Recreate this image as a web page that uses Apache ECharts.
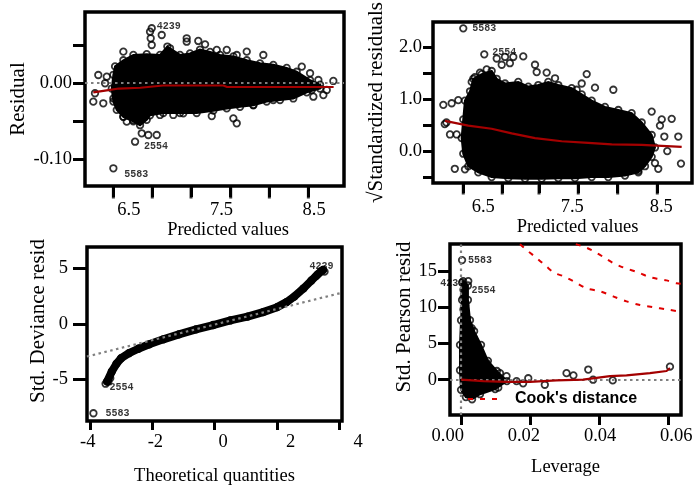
<!DOCTYPE html>
<html>
<head>
<meta charset="utf-8">
<script src="https://cdn.jsdelivr.net/npm/echarts@6/dist/echarts.min.js"></script>
<style>
html, body { margin: 0; padding: 0; background: #fff; }
#chart { width: 697px; height: 491px; }
</style>
</head>
<body>
<div id="chart"></div>
<script>
// ---- values ----
// panel 1: residuals vs predicted values
const residCore = [[6.346,-0.007],[6.363,0.011],[6.381,0.022],[6.469,0.030],[6.575,0.037],[6.717,0.038],[6.858,0.037],[6.936,0.048],[7.070,0.037],[7.176,0.039],[7.282,0.044],[7.389,0.041],[7.495,0.037],[7.636,0.035],[7.778,0.030],[7.919,0.026],[8.060,0.024],[8.202,0.020],[8.308,0.015],[8.450,0.004],[8.556,-0.002],[8.556,-0.007],[8.415,-0.012],[8.272,-0.020],[8.131,-0.022],[7.990,-0.024],[7.848,-0.029],[7.707,-0.031],[7.566,-0.033],[7.424,-0.036],[7.247,-0.039],[7.070,-0.039],[6.893,-0.039],[6.752,-0.042],[6.717,-0.048],[6.646,-0.055],[6.575,-0.050],[6.469,-0.044],[6.399,-0.035],[6.363,-0.024]];
const residPoints = [[6.759,0.0588],[6.876,0.0631],[6.770,0.0500],[6.752,0.0674],[7.141,0.0588],[7.141,0.0543],[7.264,0.0553],[7.336,0.0509],[6.964,0.0457],[6.469,0.0413],[7.460,0.0435],[7.566,0.0435],[7.672,0.0369],[7.778,0.0413],[7.954,0.0369],[8.362,0.0216],[8.450,0.0130],[8.538,0.0042],[8.697,0.0029],[8.468,-0.0089],[8.591,-0.0155],[8.485,-0.0177],[8.627,-0.0089],[6.203,0.0107],[6.293,0.0085],[6.275,-0.0001],[6.168,-0.0132],[6.150,-0.0242],[6.256,-0.0263],[6.363,-0.0198],[6.469,-0.0439],[6.575,-0.0482],[6.505,-0.0504],[6.664,-0.0656],[6.823,-0.0678],[6.734,-0.0678],[7.407,-0.0430],[7.636,-0.0460],[7.672,-0.0525],[6.858,-0.0416],[6.999,-0.0416],[7.105,-0.0394],[7.848,-0.0285],[8.060,-0.0220]];
const residNamed = [[6.770,0.0719,'4239'],[6.593,-0.0766,'2554'],[6.363,-0.1114,'5583']];
const residSmooth = [[6.15,-0.012],[6.31,-0.009],[6.42,-0.007],[6.65,-0.006],[6.89,-0.003],[7.53,-0.003],[7.57,-0.005],[8.70,-0.005]];

// panel 2: sqrt standardized residuals vs predicted values
const scaleCore = [[6.275,0.62],[6.294,0.98],[6.351,1.16],[6.388,1.40],[6.482,1.49],[6.594,1.55],[6.651,1.40],[6.744,1.31],[6.893,1.34],[7.006,1.25],[7.118,1.28],[7.230,1.34],[7.343,1.28],[7.493,1.22],[7.606,1.10],[7.718,0.98],[7.867,0.86],[8.017,0.80],[8.167,0.74],[8.280,0.56],[8.392,0.32],[8.429,0.08],[8.392,-0.10],[8.317,-0.28],[8.242,-0.40],[8.092,-0.46],[7.904,-0.49],[7.718,-0.49],[7.530,-0.51],[7.343,-0.51],[7.156,-0.52],[6.969,-0.52],[6.781,-0.51],[6.594,-0.49],[6.444,-0.40],[6.331,-0.28],[6.275,-0.04],[6.257,0.26]];
const scalePoints = [[6.651,1.79],[6.744,1.82],[6.837,1.82],[6.707,1.67],[6.799,1.70],[6.949,1.83],[7.081,1.67],[7.100,1.53],[7.212,1.52],[7.306,1.41],[7.662,1.49],[7.961,1.19],[7.755,1.23],[7.606,1.31],[7.549,1.19],[8.392,0.77],[8.505,0.62],[8.617,0.63],[8.485,0.50],[8.534,0.29],[8.691,0.29],[8.567,0.01],[8.721,-0.23],[8.466,-0.33],[8.429,-0.22],[6.051,0.90],[6.145,0.93],[6.219,0.99],[6.067,0.53],[6.086,0.56],[6.126,0.33],[6.201,0.33],[6.180,-0.33],[6.294,-0.34],[6.331,0.83],[6.331,0.68],[6.370,1.34],[6.405,1.43],[6.463,1.52],[6.538,1.58],[8.092,-0.34],[8.242,-0.37]];
const scaleNamed = [[6.275,2.37,'5583'],[6.511,1.87,'2554']];
const scaleSmooth = [[6.070,0.59],[6.331,0.50],[6.594,0.44],[6.819,0.35],[7.081,0.26],[7.381,0.20],[7.680,0.17],[7.943,0.14],[8.280,0.13],[8.729,0.09]];

// panel 3: normal Q-Q
const qqBand = [[-3.45,-5.2],[-3.3,-4.3],[-3.15,-3.6],[-3.0,-3.1],[-2.75,-2.65],[-2.45,-2.25],[-2.1,-1.85],[-1.65,-1.4],[-1.15,-0.95],[-0.6,-0.5],[-0.05,-0.11],[0.5,0.3],[1.05,0.64],[1.55,1.05],[2.0,1.5],[2.3,1.95],[2.55,2.45],[2.85,3.2],[3.1,3.9],[3.3,4.45],[3.47,4.85]];
const qqPoints = [[-3.5,-5.4],[-3.35,-4.9],[3.4,4.75],[3.25,4.3]];
const qqNamed = [[3.52,4.7,'4239'],[-3.41,-5.2,'2554'],[-3.89,-8.06,'5583']];
const qqLine = [[-4.1,-2.95],[4.08,2.8]];

// panel 4: residuals vs leverage
const levCore = [[0.0006,13.6],[0.0020,13.0],[0.0020,11.0],[0.0026,8.2],[0.0038,6.7],[0.0058,4.8],[0.0078,2.6],[0.0104,1.2],[0.0133,-0.2],[0.0099,-1.3],[0.0055,-2.0],[0.0032,-2.7],[0.0014,-2.4],[0.0000,-1.4],[-0.0003,1.3],[-0.0003,4.8],[0.0000,8.2],[0.0003,11.0],[0.0003,13.4]];
const levPoints = [[0.0007,11.3],[0.0012,10.3],[0.0007,9.7],[0.0017,8.5],[0.0021,7.4],[0.0031,7.1],[0.0036,5.8],[0.0046,4.6],[0.0074,2.3],[0.0079,1.8],[0.0113,0.9],[0.0132,0.5],[0.0108,-1.1],[0.0195,0.2],[0.0243,-0.7],[0.0306,0.9],[0.0326,0.6],[0.0369,1.4],[0.0383,0.0],[0.0440,-0.1],[0.0606,1.8],[0.0161,-0.2],[0.0180,-0.5]];
const levNamed = [[0.0003,16.5,'5583'],[0.0021,13.6,'4239'],[0.0007,12.4,'2554']];
const levSmooth = [[0,0],[0.0065,-0.2],[0.0132,-0.3],[0.0200,-0.3],[0.0277,-0.1],[0.0354,0.0],[0.0432,0.5],[0.0480,0.6],[0.0548,0.9],[0.0596,1.2],[0.0606,1.6]];
const cookHalf = [[0.0171,18.7],[0.0195,17.7],[0.0219,16.8],[0.0248,15.6],[0.0272,14.7],[0.0296,14.3],[0.0325,13.6],[0.0364,12.6],[0.0403,12.2],[0.0441,11.5],[0.0480,10.8],[0.0519,10.3],[0.0557,10.0],[0.0596,9.7],[0.0635,9.4],[0.0683,9.2]];
const cookOne = [[0.0333,18.7],[0.0364,18.2],[0.0393,17.5],[0.0417,16.8],[0.0441,16.1],[0.0470,15.5],[0.0519,14.7],[0.0543,14.2],[0.0572,13.9],[0.0596,13.7],[0.0625,13.3],[0.0664,13.2]];

// ticks and tick labels
const p1XTicks = [6.363, 6.776, 7.187, 7.608, 8.018, 8.432];
const p1XLabels = [6.5, 7.5, 8.5];
const p1YTicks = [-0.10, -0.05, 0, 0.05];
const p1YLabels = [-0.10, 0];
const p2XTicks = [6.275, 6.713, 7.126, 7.567, 8.010, 8.455];
const p2XLabels = [6.5, 7.5, 8.5];
const p2YTicks = [-0.5, 0, 0.5, 1, 1.5, 2];
const p2YLabels = [0, 1, 2];
const p3XTicks = [-4, -2, 0, 2, 4];
const p3XLabels = [-4, -2, 0, 2, 4];
const p3YTicks = [-5, 0, 5];
const p3YLabels = [-5, 0, 5];
const p4XTicks = [0, 0.02, 0.04, 0.06];
const p4XLabels = [0, 0.02, 0.04, 0.06];
const p4YTicks = [0, 5, 10, 15];
const p4YLabels = [0, 5, 10, 15];

// ---- styles ----
const serif = 'Liberation Serif';
const ring = { color: 'rgba(0,0,0,0)', borderColor: '#000', borderWidth: 1.8 };
const labelOffsets = {
  p1: { '4239': [17, -2], '2554': [21, 5], '5583': [23, 6] },
  p2: { '5583': [21, 0], '2554': [20, -2] },
  p3: { '4239': [-3, -5], '2554': [13, 6], '5583': [24, 0] },
  p4: { '5583': [18, 0], '4239': [-16, 2], '2554': [20, 1] }
};

// axis ranges of the four panels
const p1X = [6.062, 8.810], p1Y = [-0.1346, 0.0932];
const p2X = [5.935, 8.845], p2Y = [-0.603, 2.491];

const chart = echarts.init(document.getElementById('chart'));

const box = { show: true, borderColor: '#000', borderWidth: 3.5, backgroundColor: 'rgba(0,0,0,0)' };
const grid = [
  Object.assign({ left: 85, top: 12, width: 259, height: 174 }, box),
  Object.assign({ left: 433, top: 11, width: 259, height: 172 }, box),
  Object.assign({ left: 87, top: 247, width: 255, height: 174 }, box),
  Object.assign({ left: 450, top: 244, width: 231, height: 171 }, box),
  // helper grids carrying the x tick labels
  { left: 85, top: 12, width: 259, height: 174, show: false },
  { left: 433, top: 11, width: 259, height: 172, show: false },
  { left: 80, top: 247, width: 285, height: 174, show: false },
  { left: 440, top: 244, width: 250, height: 171, show: false }
];

function nameStyle(size, pad) {
  return { fontFamily: serif, fontSize: size, color: '#000', padding: pad || 0 };
}

function dataX(gi, min, max, ticks, tickLen, name, gap) {
  const ax = {
    gridIndex: gi, type: 'value', min: min, max: max, position: 'bottom',
    axisLine: { show: false, onZero: false },
    axisTick: { show: true, length: tickLen, lineStyle: { color: '#000', width: 3 }, customValues: ticks },
    axisLabel: { show: false },
    splitLine: { show: false }
  };
  if (name) {
    Object.assign(ax, { name: name, nameLocation: 'middle', nameGap: gap, nameTextStyle: nameStyle(18.5) });
  }
  return ax;
}

function labelX(gi, min, max, labels, margin, fmt, name, gap, pad) {
  const ax = {
    gridIndex: gi, type: 'value', min: min, max: max, position: 'bottom',
    axisLine: { show: false, onZero: false }, axisTick: { show: false }, splitLine: { show: false },
    axisLabel: {
      customValues: labels, margin: margin, formatter: fmt, hideOverlap: false,
      fontFamily: serif, fontSize: 18.5, color: '#000'
    }
  };
  if (name) {
    Object.assign(ax, { name: name, nameLocation: 'middle', nameGap: gap, nameTextStyle: nameStyle(18.5, pad) });
  }
  return ax;
}

function dataY(gi, min, max, ticks, labels, tickLen, margin, fmt, name, gap, pad) {
  return {
    gridIndex: gi, type: 'value', min: min, max: max, position: 'left',
    axisLine: { show: false, onZero: false },
    axisTick: { show: true, length: tickLen, lineStyle: { color: '#000', width: 3 }, customValues: ticks },
    axisLabel: {
      customValues: labels, margin: margin, formatter: fmt, hideOverlap: false,
      fontFamily: serif, fontSize: 18.5, color: '#000'
    },
    splitLine: { show: false },
    name: name, nameLocation: 'middle', nameGap: gap, nameTextStyle: nameStyle(21, pad)
  };
}

function hiddenY(gi) {
  return { gridIndex: gi, type: 'value', min: 0, max: 1, show: false, axisLine: { onZero: false } };
}

// the dense core of each cloud, filled as one polygon through its outline
function blob(points, ai) {
  return {
    type: 'custom', xAxisIndex: ai, yAxisIndex: ai, z: 2, silent: true,
    data: [points[0]],
    renderItem: function (params, api) {
      return {
        type: 'polygon',
        shape: { points: points.map(function (p) { return api.coord(p); }) },
        style: { fill: '#000', stroke: '#000', lineWidth: 2 }
      };
    }
  };
}

function dots(data, ai) {
  return {
    type: 'scatter', xAxisIndex: ai, yAxisIndex: ai, data: data, silent: true,
    symbol: 'circle', symbolSize: 6.5, itemStyle: ring, z: 3
  };
}

function named(data, ai, key) {
  return {
    type: 'scatter', xAxisIndex: ai, yAxisIndex: ai, silent: true,
    symbol: 'circle', symbolSize: 6.5, itemStyle: ring, z: 4,
    data: data.map(function (d) {
      return { value: d, label: { offset: labelOffsets[key][d[2]] } };
    }),
    label: {
      show: true, position: 'inside', formatter: function (p) { return p.value[2]; },
      fontFamily: 'Liberation Mono', fontWeight: 'bold', fontSize: 10, color: '#000'
    }
  };
}

// outward tick marks hung under the bottom edge of the top panels
function bottomTicks(ticks, yMin, ai, len) {
  return {
    type: 'scatter', xAxisIndex: ai, yAxisIndex: ai, silent: true, clip: false, z: 7,
    data: ticks.map(function (t) { return [t, yMin]; }),
    symbol: 'rect', symbolSize: [3, len], symbolOffset: [0, len / 2 + 1.5],
    itemStyle: { color: '#000' }
  };
}

function smooth(data, ai) {
  return {
    type: 'line', xAxisIndex: ai, yAxisIndex: ai, data: data, silent: true,
    showSymbol: false, symbol: 'none', z: 6,
    lineStyle: { color: '#a30000', width: 2.2 }
  };
}

const dotted = { color: '#808080', width: 2.2, type: [2.5, 3.5] };

const fmt2 = function (v) { return v.toFixed(2); };
const fmt1 = function (v) { return v.toFixed(1); };
const fmt0 = function (v) { return String(Math.round(v)); };

chart.setOption({
  animation: false,
  textStyle: { fontFamily: serif },
  grid: grid,
  legend: {
    data: ["Cook's distance"], selectedMode: false,
    left: 462, top: 386, itemWidth: 30, itemHeight: 12,
    itemStyle: { opacity: 0 },
    textStyle: { fontFamily: 'Liberation Sans', fontSize: 16, fontWeight: 'bold', color: '#000', padding: [0, 0, 0, 12] }
  },
  xAxis: [
    dataX(0, p1X[0], p1X[1], p1XTicks, 11),
    dataX(1, p2X[0], p2X[1], p2XTicks, 10),
    dataX(2, -4.096, 4.08, p3XTicks, 9, 'Theoretical quantities', 46),
    dataX(3, -0.0032, 0.0638, p4XTicks, 10, 'Leverage', 43),
    labelX(4, 6.027, 8.822, p1XLabels, 15, fmt1, 'Predicted values', 33, [0, 0, 0, 27]),
    labelX(5, 5.935, 8.845, p2XLabels, 15, fmt1, 'Predicted values', 32, [0, 0, 0, 30]),
    labelX(6, -4.231, 4.201, p3XLabels, 12, fmt0),
    labelX(7, -0.00202, 0.0636, p4XLabels, 12, fmt2)
  ],
  yAxis: [
    dataY(0, p1Y[0], p1Y[1], p1YTicks, p1YLabels, 12, 13, fmt2, 'Residual', 56),
    dataY(1, p2Y[0], p2Y[1], p2YTicks, p2YLabels, 10, 11, fmt1, '\u221AStandardized residuals', 46),
    dataY(2, -8.76, 6.92, p3YTicks, p3YLabels, 14, 19, fmt0, 'Std. Deviance resid', 37, [0, 0, 0, 26]),
    dataY(3, -4.87, 18.72, p4YTicks, p4YLabels, 12, 13, fmt0, 'Std. Pearson resid', 34, [0, 0, 0, 25]),
    hiddenY(4), hiddenY(5), hiddenY(6), hiddenY(7)
  ],
  series: [
    // panel 1
    blob(residCore, 0),
    dots(residCore, 0),
    dots(residPoints, 0),
    named(residNamed, 0, 'p1'),
    bottomTicks(p1XTicks, p1Y[0], 0, 11),
    Object.assign(smooth(residSmooth, 0), {
      markLine: { silent: true, symbol: 'none', label: { show: false }, lineStyle: dotted, data: [{ yAxis: 0 }], z: 5 }
    }),
    // panel 2
    blob(scaleCore, 1),
    dots(scaleCore, 1),
    dots(scalePoints, 1),
    named(scaleNamed, 1, 'p2'),
    bottomTicks(p2XTicks, p2Y[0], 1, 10),
    smooth(scaleSmooth, 1),
    // panel 3
    {
      type: 'line', xAxisIndex: 2, yAxisIndex: 2, data: qqBand, silent: true,
      symbol: 'circle', symbolSize: 6.5, showSymbol: true, itemStyle: ring, z: 3,
      lineStyle: { color: '#000', width: 8, cap: 'round', join: 'round' }
    },
    dots(qqPoints, 2),
    named(qqNamed, 2, 'p3'),
    {
      type: 'line', xAxisIndex: 2, yAxisIndex: 2, data: qqLine, silent: true,
      symbol: 'none', z: 5, lineStyle: dotted
    },
    // panel 4
    blob(levCore, 3),
    dots(levCore, 3),
    dots(levPoints, 3),
    named(levNamed, 3, 'p4'),
    Object.assign(smooth(levSmooth, 3), {
      markLine: { silent: true, symbol: 'none', label: { show: false }, lineStyle: dotted, data: [{ yAxis: 0 }, { xAxis: 0 }], z: 5 }
    }),
    {
      name: "Cook's distance", type: 'line', xAxisIndex: 3, yAxisIndex: 3, data: cookHalf, silent: true,
      symbol: 'none', smooth: 0.3, clip: false, z: 6,
      lineStyle: { color: '#e00000', width: 2, type: [5, 7] }, itemStyle: { color: '#e00000' }
    },
    {
      name: "Cook's distance", type: 'line', xAxisIndex: 3, yAxisIndex: 3, data: cookOne, silent: true,
      symbol: 'none', smooth: 0.3, clip: false, z: 6,
      lineStyle: { color: '#e00000', width: 2, type: [5, 7] }, itemStyle: { color: '#e00000' }
    }
  ]
});
</script>
</body>
</html>
